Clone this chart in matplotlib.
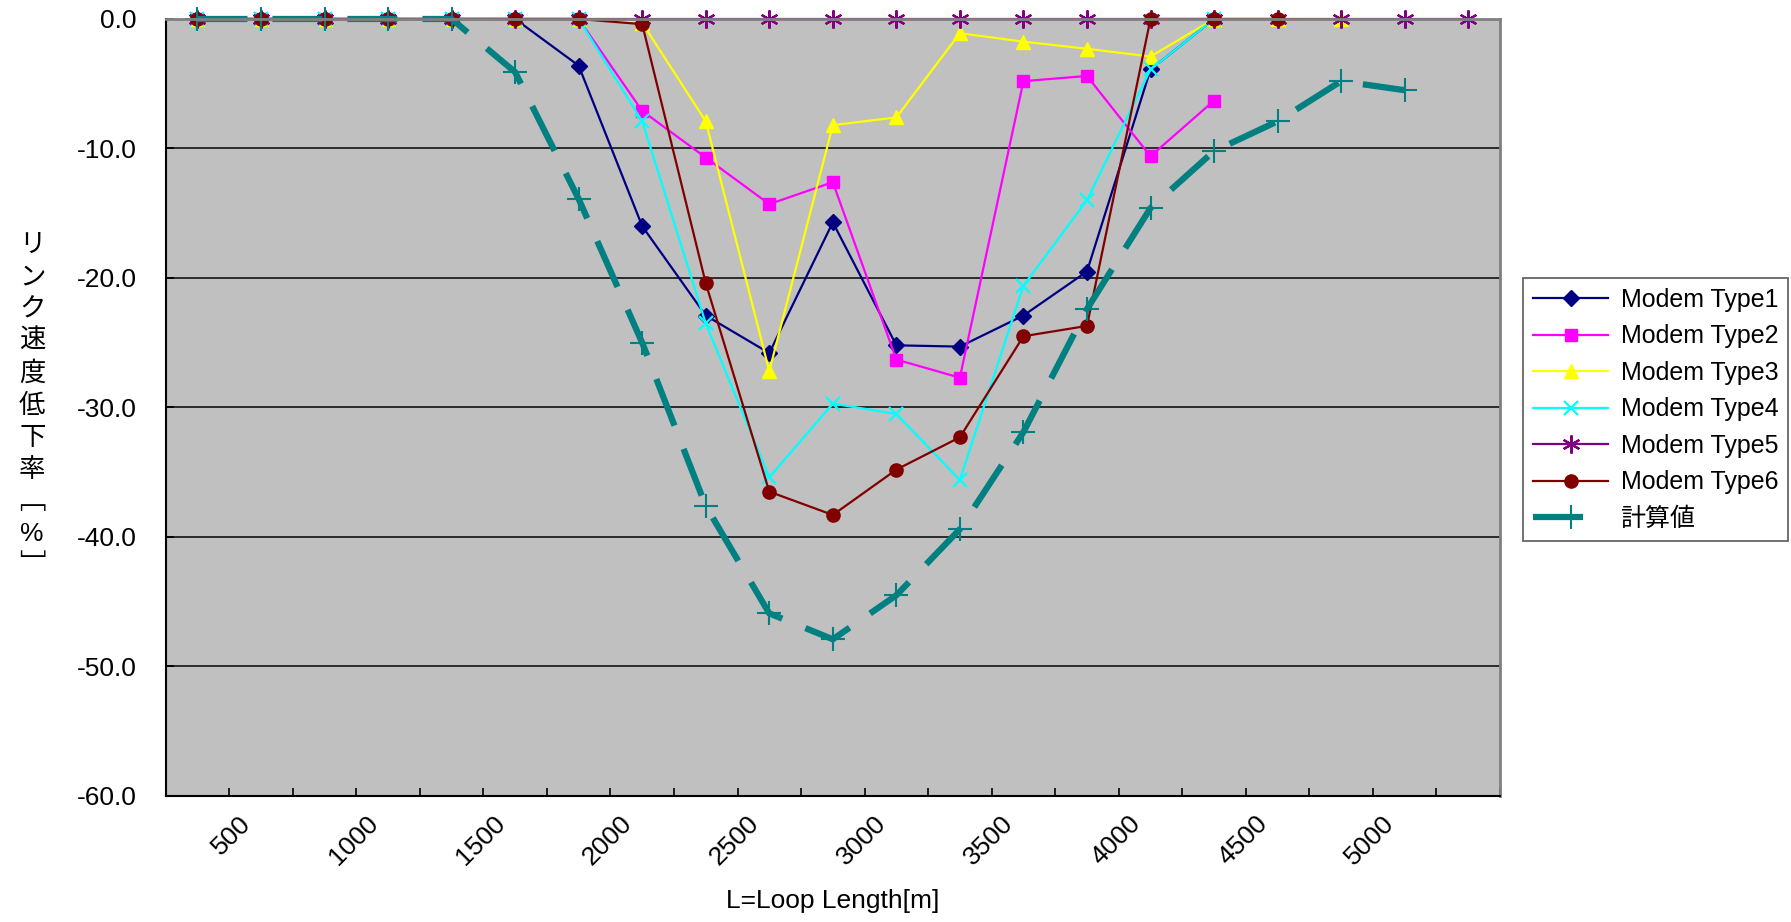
import numpy as np
import matplotlib
matplotlib.use("Agg")
import matplotlib.pyplot as plt
import matplotlib.transforms as mtransforms

plt.rcParams['font.family'] = ['Liberation Sans', 'Noto Sans CJK JP', 'DejaVu Sans']
plt.rcParams['axes.unicode_minus'] = False

nan = np.nan
# loop length categories [m]
lengths = [250, 500, 750, 1000, 1250, 1500, 1750, 2000, 2250, 2500, 2750,
           3000, 3250, 3500, 3750, 4000, 4250, 4500, 4750, 5000, 5250]

type1 = [0, 0, 0, 0, 0, 0, -3.6, -16.0, -22.9, -25.8, -15.7, -25.2, -25.3, -22.9,
         -19.5, -3.9, 0, nan, nan, nan, nan]
type2 = [0, 0, 0, 0, 0, 0, 0, -7.1, -10.7, -14.3, -12.6, -26.3, -27.7, -4.8,
         -4.4, -10.6, -6.3, nan, nan, nan, nan]
type3 = [0, 0, 0, 0, 0, 0, 0, -0.3, -7.9, -27.2, -8.2, -7.6, -1.1, -1.75,
         -2.3, -2.9, 0, 0, 0, nan, nan]
type4 = [0, 0, 0, 0, 0, 0, 0, -7.9, -23.5, -35.4, -29.7, -30.5, -35.6, -20.6,
         -14.0, -3.9, 0, nan, nan, nan, nan]
type5 = [0] * 21
type6 = [0, 0, 0, 0, 0, 0, 0, -0.4, -20.4, -36.5, -38.3, -34.8, -32.3, -24.5,
         -23.7, 0, 0, 0, nan, nan, nan]
calc = [0, 0, 0, 0, 0, -4.1, -13.9, -25.0, -37.6, -45.9, -47.9, -44.5, -39.4, -31.9,
        -22.4, -14.6, -10.2, -7.9, -4.8, -5.5, nan]

x = np.arange(len(lengths))

fig = plt.figure(figsize=(17.91, 9.22), dpi=100)
ax = fig.add_axes([0.0925, 0.1367, 0.7450, 0.8427])
ax.set_facecolor('#C0C0C0')

common = dict(lw=1.6, clip_on=False)
ax.plot(x, type1, color='#000080', marker='D', ms=8, label='Modem Type1', **common)
ax.plot(x, type2, color='#FF00FF', marker='s', ms=9, label='Modem Type2', **common)
ax.plot(x, type3, color='#FFFF00', marker='^', ms=10, label='Modem Type3', **common)
ax.plot(x, type4, color='#00FFFF', marker='x', ms=10, mew=1.6, label='Modem Type4', **common)
ax.plot(x, type5, color='#800080', marker=(6, 2, 0), ms=13, mew=1.6, label='Modem Type5', **common)
ax.plot(x, type6, color='#800000', marker='o', ms=9.5, label='Modem Type6', **common)
ax.plot(x, calc, color='#008080', lw=4.5, dashes=(8, 4), marker='+', ms=17, mew=1.5,
        label='計算値', clip_on=False)

ax.set_xlim(-0.5, len(lengths) - 0.5)
ax.set_ylim(-60, 0)
ax.set_yticks(np.arange(-60, 1, 10))
ax.set_yticklabels(['%.1f' % v for v in np.arange(-60, 1, 10)])
ax.yaxis.grid(True, color='#202020', lw=1.3)
ax.set_axisbelow(True)

# category boundaries carry the tick marks, every other category carries a label
ax.set_xticks(np.arange(-0.5, len(lengths), 1.0))
ax.set_xticklabels([])
lab_idx = x[1::2][:10]
ax.set_xticks(lab_idx, [str(lengths[i]) for i in lab_idx], minor=True)
ax.tick_params(axis='x', which='major', direction='in', length=6, width=1.2)
ax.tick_params(axis='x', which='minor', length=0, pad=11, labelsize=19)
ax.tick_params(axis='y', direction='in', length=6, width=1.2, pad=21, labelsize=19)
offset = mtransforms.ScaledTranslation(-4 / 72, 0, fig.dpi_scale_trans)
for t in ax.get_xticklabels(minor=True):
    t.set_rotation(45)
    t.set_ha('right')
    t.set_transform(t.get_transform() + offset)

for s in ['left', 'bottom']:
    ax.spines[s].set_color('black')
    ax.spines[s].set_linewidth(1.5)
for s in ['top', 'right']:
    ax.spines[s].set_color('#808080')
    ax.spines[s].set_linewidth(2)

ax.set_xlabel('L=Loop Length[m]', fontsize=19, labelpad=14)

ylab = ['リ', 'ン', 'ク', '速', '度', '低', '下', '率', '﹇', '%', '﹈']
fig.text(0.018, 0.56, '\n'.join(ylab), fontsize=19, ha='center', va='center',
         multialignment='center', linespacing=1.42)

leg = ax.legend(loc='upper left', bbox_to_anchor=(0.8504, 0.6985),
                bbox_transform=fig.transFigure, fontsize=18, frameon=True,
                fancybox=False, edgecolor='#404040', handlelength=3.0,
                labelspacing=0.5, borderpad=0.4, handletextpad=0.5,
                borderaxespad=0)
leg.get_frame().set_linewidth(1.3)

fig.savefig('out.png', dpi=100)
